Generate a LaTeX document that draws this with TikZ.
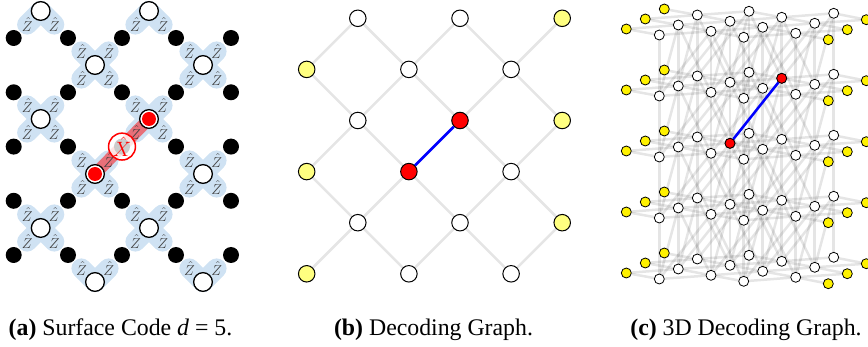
\documentclass[tikz,border=0pt]{standalone}
\usepackage{fontspec}
\setmainfont{Liberation Serif}
\usetikzlibrary{backgrounds}
\definecolor{armblue}{HTML}{CFE2F3}
\definecolor{softyellow}{HTML}{FFFF80}
\tikzset{
    stab/.style={circle, draw=black, line width=1.3pt, fill=white, inner sep=0pt, minimum size=18.7pt},
    dataq/.style={circle, fill=black, inner sep=0pt, minimum size=16pt},
    zlabel/.style={inner sep=0pt, text=black!75, font=\fontsize{15}{15}\selectfont},
    arm/.style={armblue, line width=20pt, line cap=round},
    inner/.style={circle, fill=red, inner sep=0pt, minimum size=14pt},
    flip/.style={circle, draw=red, line width=1.5pt, fill=white, fill opacity=0.8, text opacity=1, text=red, inner sep=0pt, minimum size=24pt, font=\fontsize{21}{21}\selectfont},
    band/.style={red, opacity=0.5, line width=12pt},
    edge/.style={black, opacity=0.1, line width=2.5pt},
    match/.style={blue, line width=2.5pt},
    qubit/.style={circle, draw=black, line width=1pt, fill=white, inner sep=0pt, minimum size=16.5pt},
    bound/.style={qubit, fill=softyellow},
    defect/.style={qubit, fill=red},
    small/.style={circle, draw=black, line width=0.8pt, fill=white, inner sep=0pt, minimum size=10pt},
    smallbound/.style={small, fill=yellow},
    smalldefect/.style={small, fill=red},
    caption/.style={anchor=base, inner sep=0pt, font=\fontsize{23.8}{28}\selectfont}
}
\begin{document}
\begin{tikzpicture}[x=1pt, y=-1pt]
    \useasboundingbox (0,0) rectangle (868,347);

    % Surface code
    \foreach \x in {13.7,68,122,176,231}
        \foreach \y in {38,92.3,146.6,200.8,255}
            \node[dataq] (d\x-\y) at (\x,\y) {};
    \foreach \n/\x/\y/\dirs in {
        s1/40.7/11/{-1/1,1/1}, s2/149/11/{-1/1,1/1},
        s3/95/65/{-1/-1,1/-1,-1/1,1/1}, s4/203/65/{-1/-1,1/-1,-1/1,1/1},
        s5/40.7/119/{-1/-1,1/-1,-1/1,1/1}, s6/149/119/{-1/-1,1/-1,-1/1,1/1},
        s7/95/174/{-1/-1,1/-1,-1/1,1/1}, s8/203/174/{-1/-1,1/-1,-1/1,1/1},
        s9/40.7/228/{-1/-1,1/-1,-1/1,1/1}, s10/149/228/{-1/-1,1/-1,-1/1,1/1},
        s11/95/282/{-1/-1,1/-1}, s12/203/282/{-1/-1,1/-1}} {
        \node[stab] (\n) at (\x,\y) {};
        \foreach \sx/\sy in \dirs {
            \node[zlabel] (z\n\sx\sy) at (\x+\sx*13.6,\y+\sy*13.6) {$\hat{Z}$};
            \begin{pgfonlayer}{background}
                \draw[arm] (\n.center) -- (z\n\sx\sy.center);
            \end{pgfonlayer}
        }
    }
    \node[inner] (e1) at (s6) {};
    \node[inner] (e2) at (s7) {};
    \begin{pgfonlayer}{background}
        \draw[band] (s6.center) -- (s7.center);
    \end{pgfonlayer}
    \node[flip] (xgate) at (122,146.6) {$\hat{X}$};

    % Decoding graph
    \foreach \j/\r/\kind in {
        1/0/qubit, 3/0/qubit, 5/0/bound,
        0/1/bound, 2/1/qubit, 4/1/qubit,
        1/2/qubit, 3/2/defect, 5/2/bound,
        0/3/bound, 2/3/defect, 4/3/qubit,
        1/4/qubit, 3/4/qubit, 5/4/bound,
        0/5/bound, 2/5/qubit, 4/5/qubit}
        \node[\kind] (b\j\r) at (306.7+\j*51.1,18.3+\r*51.1) {};
    \begin{scope}[on background layer]
        \foreach \r/\s in {0/1,2/3,4/5}
            \foreach \a/\b in {1/0,1/2,3/2,3/4,5/4}
                \draw[edge] (b\a\r) -- (b\b\s);
        \foreach \r/\s in {1/2,3/4}
            \foreach \a/\b in {0/1,2/1,2/3,4/3,4/5}
                \draw[edge] (b\a\r) -- (b\b\s);
    \end{scope}
    \draw[match] (b23) -- (b32);

    % 3D decoding graph
    \foreach \l in {0,...,4}
        \foreach \j/\bx/\by/\kind in {0/626.3/29/smallbound, 1/659.3/35/small, 2/711/31.3/small,
                3/743.7/37.3/small, 4/795.7/33.3/small, 5/828.3/39.7/smallbound}
            \foreach \k in {0,1,2}
                \node[\kind] (c\l\j\k) at (\bx+\k*19,\by-\k*10+\l*61) {};
    \begin{scope}[on background layer]
        \foreach \l in {0,...,4} {
            \foreach \j/\i in {0/1,1/2,2/3,3/4,4/5}
                \foreach \k in {0,1,2}
                    \draw[edge] (c\l\j\k) -- (c\l\i\k);
            \foreach \j/\i in {0/1,2/3,4/5}
                \foreach \k/\m in {0/1,1/2}
                    \draw[edge] (c\l\j\k) -- (c\l\i\m);
            \foreach \j/\i in {1/2,3/4}
                \foreach \k/\m in {1/0,2/1}
                    \draw[edge] (c\l\j\k) -- (c\l\i\m);
        }
        \foreach \l/\t in {0/1,1/2,2/3,3/4} {
            \foreach \j in {1,2,3,4} {
                \foreach \k in {0,1,2}
                    \draw[edge] (c\l\j\k) -- (c\t\j\k);
                \foreach \k/\m in {1/0,2/1}
                    \draw[edge] (c\l\j\k) -- (c\t\j\m);
            }
            \foreach \j/\i in {2/3,2/1,4/3}
                \foreach \k in {0,1,2}
                    \draw[edge] (c\l\j\k) -- (c\t\i\k);
            \foreach \j/\i in {1/2,3/4,3/2}
                \foreach \k/\m in {1/0,2/1}
                    \draw[edge] (c\l\j\k) -- (c\t\i\m);
        }
    \end{scope}
    \node[smalldefect] (f1) at (c221) {};
    \node[smalldefect] (f2) at (c132) {};
    \draw[match] (f1) -- (f2);

    % Captions
    \node[caption] (capa) at (120.5,336) {\textbf{(a)} Surface Code \textit{d} = 5.};
    \node[caption] (capb) at (433.5,336) {\textbf{(b)} Decoding Graph.};
    \node[caption] (capc) at (746,336) {\textbf{(c)} 3D Decoding Graph.};
\end{tikzpicture}
\end{document}
